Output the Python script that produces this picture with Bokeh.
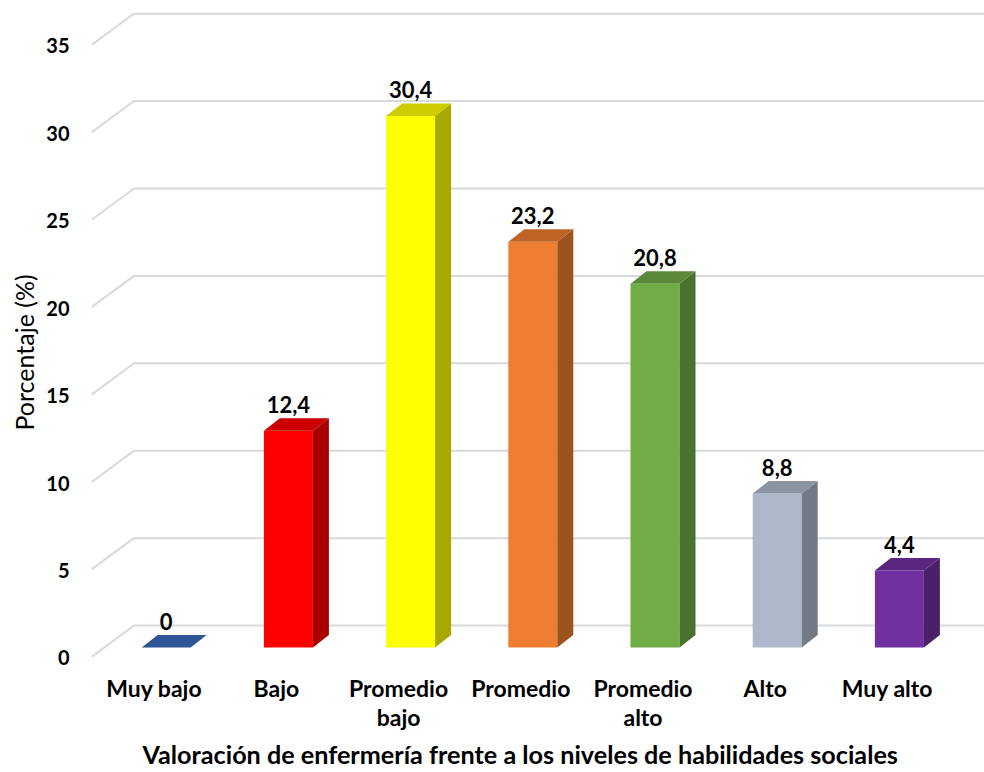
from bokeh.plotting import figure
from bokeh.models import Range1d, FixedTicker, Title, LinearAxis
from bokeh.core.properties import value
from bokeh.embed import file_html
from bokeh.resources import INLINE

categories = ["Muy bajo", "Bajo", "Promedio\nbajo", "Promedio", "Promedio\nalto", "Alto", "Muy alto"]
values = [0, 12.4, 30.4, 23.2, 20.8, 8.8, 4.4]
labels = ["0", "12,4", "30,4", "23,2", "20,8", "8,8", "4,4"]
front_colors = ["#2F5597", "#FF0000", "#FFFF00", "#ED7D31", "#70AD47", "#ADB9CA", "#7030A0"]
top_colors = ["#2F5597", "#CC0000", "#CCCC00", "#BE6427", "#5A8A39", "#8A94A2", "#5A2680"]
side_colors = ["#2F5597", "#A80000", "#A8A800", "#9C5320", "#4A722F", "#727A85", "#4A2069"]
y_ticks = [0, 5, 10, 15, 20, 25, 30, 35]

FONT = "Lato"
PX_X = 122.2   # pixels per category
PX_Y = 17.51   # pixels per percent
W, H = 984, 772
LEFT, BOTTOM = 91, 110
ZERO_Y = 657.4               # pixel row of the value 0 at the front of the floor
FRAME_BOTTOM = H - BOTTOM

x0 = -(165.7 - LEFT) / PX_X
x1 = x0 + (W - LEFT) / PX_X
y0 = -(FRAME_BOTTOM - ZERO_Y) / PX_Y
y1 = ZERO_Y / PX_Y
label_dx = 12 / PX_X
label_dy = 1.0 / PX_Y

p = figure(width=W, height=H, output_backend="svg", toolbar_location=None,
           x_range=Range1d(x0, x1), y_range=Range1d(y0, y1),
           x_axis_location=None, y_axis_location=None,
           min_border_left=LEFT, min_border_bottom=BOTTOM, min_border_top=0, min_border_right=0,
           outline_line_color=None, background_fill_color="white")
p.grid.visible = False
p.extra_x_ranges["labels"] = Range1d(x0 + label_dx, x1 + label_dx)
p.extra_y_ranges["labels"] = Range1d(y0 + label_dy, y1 + label_dy)

# floor/wall grid lines
wall_dx, wall_dy = 42.5 / PX_X, 31.4 / PX_Y
p.multi_line([[x0, x0 + wall_dx, x1] for _ in y_ticks],
             [[v, v + wall_dy, v + wall_dy] for v in y_ticks],
             line_color="#D9D9D9", line_width=2)

# 3D bars
half = 24.5 / PX_X
depth_x, depth_y = 16 / PX_X, 12.5 / PX_Y
base = 9.5 / PX_Y
xs = list(range(len(values)))
tops = [base + v for v in values]
nonzero = [i for i, v in enumerate(values) if v > 0]

p.vbar(x=[xs[i] for i in nonzero], width=2 * half, bottom=base, top=[tops[i] for i in nonzero],
       fill_color=[front_colors[i] for i in nonzero], line_color=None)
p.patches([[i + half, i + half + depth_x, i + half + depth_x, i + half] for i in nonzero],
          [[base, base + depth_y, tops[i] + depth_y, tops[i]] for i in nonzero],
          fill_color=[side_colors[i] for i in nonzero], line_color=None)
p.patches([[i - half, i + half, i + half + depth_x, i - half + depth_x] for i in xs],
          [[tops[i], tops[i], tops[i] + depth_y, tops[i] + depth_y] for i in xs],
          fill_color=top_colors, line_color=None)

# value labels
p.text(x=xs, y=tops, text=labels, text_font=value(FONT), text_font_style="bold",
       text_font_size="22px", text_color="black", text_align="center",
       text_baseline="middle", y_offset=-26)

# axes
ya = LinearAxis(y_range_name="labels")
ya.ticker = FixedTicker(ticks=y_ticks)
ya.axis_line_color = None
ya.major_tick_line_color = None
ya.minor_tick_line_color = None
ya.major_label_standoff = 16
ya.major_label_text_font = FONT
ya.major_label_text_font_style = "bold"
ya.major_label_text_font_size = "20px"
ya.major_label_text_color = "black"
p.add_layout(ya, "left")

xa = LinearAxis(x_range_name="labels")
xa.ticker = FixedTicker(ticks=xs)
xa.major_label_overrides = {i: c for i, c in enumerate(categories)}
xa.axis_line_color = None
xa.major_tick_line_color = None
xa.minor_tick_line_color = None
xa.major_label_standoff = 6
xa.major_label_text_font = FONT
xa.major_label_text_font_style = "bold"
xa.major_label_text_font_size = "23px"
xa.major_label_text_color = "black"
xa.major_label_text_line_height = 1.05
p.add_layout(xa, "below")

p.add_layout(Title(text="Valoración de enfermería frente a los niveles de habilidades sociales",
                   align="left", offset=51, standoff=7,
                   text_font=FONT, text_font_style="bold", text_font_size="25.2px",
                   text_color="black"), "below")
p.add_layout(Title(text="Porcentaje (%)", align="left", offset=231, standoff=10,
                   text_font=FONT, text_font_style="normal", text_font_size="25px",
                   text_color="black"), "left")

open("out.html", "w").write(file_html(p, INLINE))
